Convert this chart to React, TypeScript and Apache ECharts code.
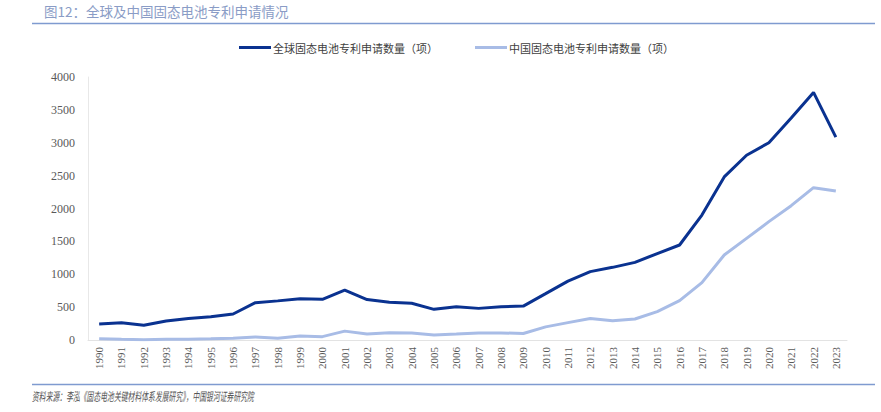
import React, { useEffect, useRef } from "react";
import * as echarts from "echarts";

const years = [
  "1990","1991","1992","1993","1994","1995","1996","1997","1998","1999",
  "2000","2001","2002","2003","2004","2005","2006","2007","2008","2009",
  "2010","2011","2012","2013","2014","2015","2016","2017","2018","2019",
  "2020","2021","2022","2023",
];
const globalPatents = [
  243, 262, 223, 290, 328, 352, 395, 568, 595, 628,
  618, 760, 615, 573, 558, 466, 505, 481, 505, 516,
  705, 895, 1040, 1105, 1181, 1315, 1445, 1900, 2480, 2810,
  3000, 3375, 3765, 3085,
];
const chinaPatents = [
  18, 10, 5, 10, 10, 18, 27, 45, 25, 60,
  51, 135, 91, 111, 108, 76, 91, 108, 108, 98,
  200, 264, 328, 294, 319, 431, 598, 872, 1293, 1546,
  1800, 2043, 2317, 2266,
];
const yTicks = { min: 0, max: 4000, interval: 500 };
const seriesNames = ["全球固态电池专利申请数量（项）", "中国固态电池专利申请数量（项）"];
const titleText = "图12：全球及中国固态电池专利申请情况";
const sourceText = "资料来源：李泓《固态电池关键材料体系发展研究》，中国银河证券研究院";

export default function App() {
  const ref = useRef<HTMLDivElement>(null);
  useEffect(() => {
    if (!ref.current) return;
    const chart = echarts.init(ref.current, null, { renderer: "svg" });
    const serif = "Liberation Serif";
    const cjk = "Noto Sans CJK SC";
    chart.setOption({
      animation: false,
      backgroundColor: "#ffffff",
      grid: { left: 88, right: 34, top: 77, bottom: 72, containLabel: false },
      legend: {
        top: 37,
        left: 234,
        itemWidth: 32,
        itemHeight: 3,
        itemGap: 37,
        icon: "rect",
        textStyle: { fontFamily: cjk, fontSize: 11, color: "#404040", padding: [0, 0, 0, -3] },
        data: seriesNames,
      },
      xAxis: {
        type: "category",
        data: years,
        boundaryGap: true,
        axisTick: { show: false },
        axisLine: { lineStyle: { color: "#e3e3e3", width: 1 } },
        axisLabel: {
          interval: 0,
          rotate: 90,
          margin: 7,
          fontFamily: serif,
          fontSize: 11,
          color: "#595959",
        },
      },
      yAxis: {
        type: "value",
        min: yTicks.min,
        max: yTicks.max,
        interval: yTicks.interval,
        splitLine: { show: false },
        axisTick: { show: false },
        axisLine: { show: true, lineStyle: { color: "#e8e8e8", width: 1 } },
        axisLabel: {
          margin: 13,
          fontFamily: serif,
          fontSize: 12,
          color: "#595959",
          formatter: (v: number) => String(v),
        },
      },
      series: [
        {
          name: seriesNames[0],
          type: "line",
          data: globalPatents,
          symbol: "none",
          lineStyle: { color: "#0a3290", width: 3 },
          itemStyle: { color: "#0a3290" },
          z: 3,
        },
        {
          name: seriesNames[1],
          type: "line",
          data: chinaPatents,
          symbol: "none",
          lineStyle: { color: "#a8bce6", width: 3 },
          itemStyle: { color: "#a8bce6" },
          z: 2,
        },
      ],
      graphic: [
        {
          type: "text",
          left: 44,
          top: 4,
          style: { text: titleText, fontFamily: cjk, fontSize: 13.5, fill: "#8a9cc6" },
        },
        {
          type: "line",
          shape: { x1: 32, y1: 23.5, x2: 875, y2: 23.5 },
          style: { stroke: "#7f9bd0", lineWidth: 1.5 },
        },
        {
          type: "line",
          shape: { x1: 32, y1: 384.5, x2: 875, y2: 384.5 },
          style: { stroke: "#7f9bd0", lineWidth: 1.5 },
        },
        {
          type: "text",
          x: 32,
          y: 390,
          scaleX: 0.57,
          style: {
            text: sourceText,
            fontFamily: cjk,
            fontSize: 12,
            fontStyle: "italic",
            fill: "#555555",
          },
        },
      ],
    });
    return () => chart.dispose();
  }, []);
  return <div ref={ref} style={{ width: 881, height: 412, position: "absolute", left: 0, top: 0 }} />;
}
